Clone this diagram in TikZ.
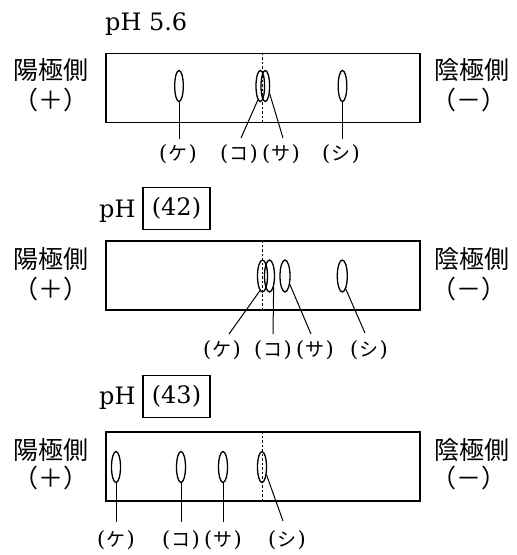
\documentclass[tikz,border=0pt]{standalone}
\usepackage{fontspec}
\setmainfont{DejaVu Serif}
\newfontfamily\jp{Noto Sans CJK JP}
\usetikzlibrary{shapes.geometric}
\newcommand{\kana}[1]{{\fontsize{21}{21}\selectfont(}\kern1.2pt{\jp\fontsize{19}{19}\selectfont #1}\kern1.2pt{\fontsize{21}{21}\selectfont)}}
\tikzset{
  plate/.style={draw, line width=1.7pt, minimum width=314pt, minimum height=69pt, inner sep=0pt, anchor=north west},
  spot/.style={draw, ellipse, line width=1.3pt, inner sep=0pt, minimum width=9pt, minimum height=31pt},
  lead/.style={line width=1pt},
  guide/.style={line width=1pt, dash pattern=on 2.5pt off 2pt},
  side/.style={font=\jp\fontsize{25}{25}\selectfont, inner sep=0pt},
  tag/.style={inner sep=0pt},
  phtxt/.style={font=\fontsize{24}{24}\selectfont, inner sep=0pt, anchor=base west},
  ansbox/.style={draw, line width=1.7pt, minimum width=67pt, minimum height=42pt, inner sep=0pt, font=\fontsize{24}{24}\selectfont}
}
\begin{document}
\begin{tikzpicture}[x=1pt,y=-1pt]
\useasboundingbox (0,0) rectangle (517,555);

% ---------- panel 1 ----------
\node[phtxt] (ph1) at (105,30) {pH 5.6};
\node[plate] (r1) at (105,52.5) {};
\node[side] (an1) at (50.5,70) {陽極側};
\node[side] (ap1) at (51,100) {（＋）};
\node[side] (ca1) at (471.5,70) {陰極側};
\node[side] (cp1) at (469,100) {（－）};
\coordinate (d1) at (262.7,52.5);
\draw[guide] (d1) -- (d1 |- r1.south);
\node[spot, minimum width=8.6pt] (s1k) at (179,86) {};
\node[spot, minimum width=8.6pt] (s1ko) at (260.3,86) {};
\node[spot, minimum width=8.6pt] (s1sa) at (265.3,86) {};
\node[spot, minimum width=8.6pt] (s1si) at (342.5,86) {};
\coordinate (e1k) at (179,139);
\coordinate (e1ko) at (241,138);
\coordinate (e1sa) at (283,138);
\coordinate (e1si) at (342.5,139);
\draw[lead] (s1k.south) -- (e1k);
\draw[lead] (s1ko.-100) -- (e1ko);
\draw[lead] (s1sa.-60) -- (e1sa);
\draw[lead] (s1si.south) -- (e1si);
\node[tag] (t1k) at (178,154) {\kana{ケ}};
\node[tag] (t1ko) at (239,154) {\kana{コ}};
\node[tag] (t1sa) at (281,154) {\kana{サ}};
\node[tag] (t1si) at (341,154) {\kana{シ}};

% ---------- panel 2 ----------
\node[phtxt] (ph2) at (99,217) {pH};
\node[ansbox] (b2) at (176.5,208.5) {(42)};
\node[plate] (r2) at (105,240) {};
\node[side] (an2) at (50.5,259) {陽極側};
\node[side] (ap2) at (51,289) {（＋）};
\node[side] (ca2) at (471.5,259) {陰極側};
\node[side] (cp2) at (469,289) {（－）};
\coordinate (d2) at (262.3,240);
\draw[guide] (d2) -- (d2 |- r2.south);
\node[spot, minimum width=10pt, minimum height=32pt] (s2k) at (262.5,276) {};
\node[spot, minimum width=10pt, minimum height=32pt] (s2ko) at (269.5,276) {};
\node[spot, minimum width=10pt, minimum height=32pt] (s2sa) at (285,276) {};
\node[spot, minimum width=10pt, minimum height=32pt] (s2si) at (342.3,276) {};
\coordinate (e2k) at (229,334);
\coordinate (e2ko) at (273,334);
\coordinate (e2sa) at (311,334);
\coordinate (e2si) at (365,333);
\draw[lead] (s2k.-100) -- (e2k);
\draw[lead] (s2ko.-70) -- (e2ko);
\draw[lead] (s2sa.-60) -- (e2sa);
\draw[lead] (s2si.-75) -- (e2si);
\node[tag] (t2k) at (222,350) {\kana{ケ}};
\node[tag] (t2ko) at (273,350) {\kana{コ}};
\node[tag] (t2sa) at (315,350) {\kana{サ}};
\node[tag] (t2si) at (369,350) {\kana{シ}};

% ---------- panel 3 ----------
\node[phtxt] (ph3) at (99,404) {pH};
\node[ansbox] (b3) at (176.5,396.5) {(43)};
\node[plate] (r3) at (105,431) {};
\node[side] (an3) at (50.5,450) {陽極側};
\node[side] (ap3) at (51,478) {（＋）};
\node[side] (ca3) at (471.5,450) {陰極側};
\node[side] (cp3) at (469,478) {（－）};
\coordinate (d3) at (262,431);
\draw[guide] (d3) -- (d3 |- r3.south);
\node[spot] (s3k) at (116,467) {};
\node[spot] (s3ko) at (181,467) {};
\node[spot] (s3sa) at (223,467) {};
\node[spot] (s3si) at (262,467) {};
\coordinate (e3k) at (116,522);
\coordinate (e3ko) at (181,522);
\coordinate (e3sa) at (223,522);
\coordinate (e3si) at (283,521);
\draw[lead] (s3k.south) -- (e3k);
\draw[lead] (s3ko.south) -- (e3ko);
\draw[lead] (s3sa.south) -- (e3sa);
\draw[lead] (s3si.-60) -- (e3si);
\node[tag] (t3k) at (116,540) {\kana{ケ}};
\node[tag] (t3ko) at (181,540) {\kana{コ}};
\node[tag] (t3sa) at (223,540) {\kana{サ}};
\node[tag] (t3si) at (287,540) {\kana{シ}};
\end{tikzpicture}
\end{document}
